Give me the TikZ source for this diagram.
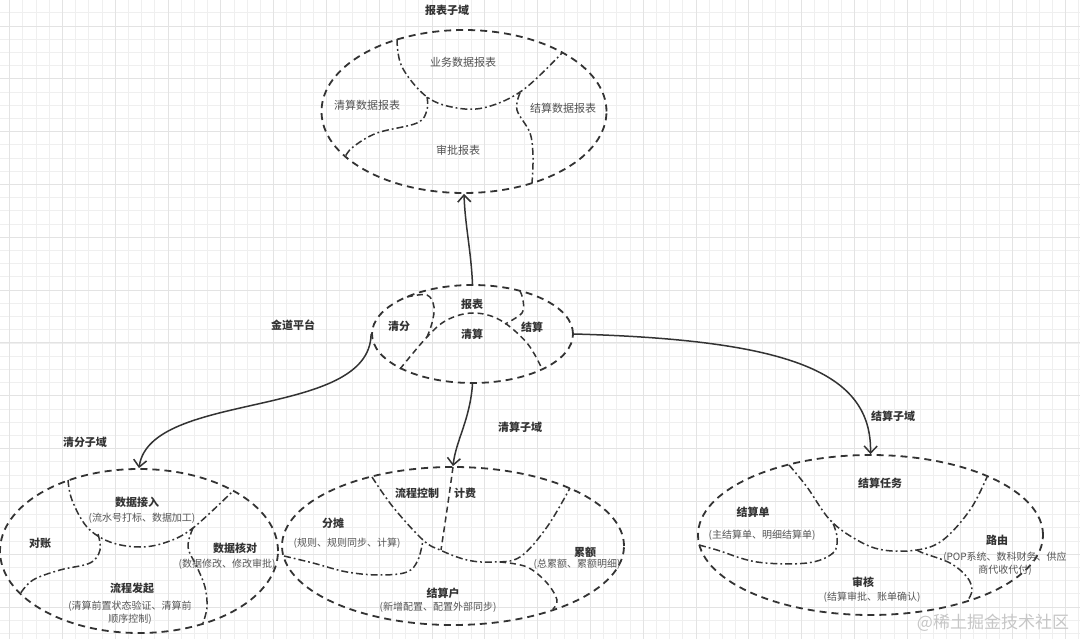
\documentclass[tikz,border=0pt]{standalone}
\usepackage{fontspec}
\setmainfont{Noto Sans CJK SC}
\usetikzlibrary{shapes.geometric,arrows.meta}
\definecolor{ink}{HTML}{333333}
\definecolor{soft}{HTML}{555555}
\definecolor{gridminor}{HTML}{EFEFEF}
\definecolor{gridmajor}{HTML}{E3E3E3}
\tikzset{
  domainell/.style={ellipse, draw=ink, line width=1.8pt, dash pattern=on 7pt off 5pt, inner sep=0pt},
  dashdot/.style={draw=ink, line width=1.5pt, dash pattern=on 7pt off 3pt on 1.8pt off 3pt},
  dashline/.style={draw=ink, line width=1.5pt, dash pattern=on 6pt off 4pt},
  conn/.style={draw=ink, line width=1.5pt, -{Straight Barb[length=7pt,width=13pt,line width=1.5pt]}},
  lbl/.style={font=\fontsize{11}{13}\selectfont\bfseries, text=ink, inner sep=0pt},
  sub/.style={font=\fontsize{10}{13}\selectfont, text=soft, inner sep=0pt, align=center},
  plainlbl/.style={font=\fontsize{11}{13}\selectfont, text=ink!85, inner sep=0pt},
}
\begin{document}
\begin{tikzpicture}[x=1pt,y=-1pt]
\useasboundingbox (0,0) rectangle (1080,639);
\fill[white] (0,0) rectangle (1080,639);
% grid
\foreach \gx in {9.6,22.8,...,1080} \draw[gridminor, line width=0.8pt] (\gx,0) -- (\gx,639);
\foreach \gy in {12.9,26.1,...,639} \draw[gridminor, line width=0.8pt] (0,\gy) -- (1080,\gy);
\foreach \gx in {9.6,62.4,...,1080} \draw[gridmajor, line width=0.8pt] (\gx,0) -- (\gx,639);
\foreach \gy in {26.1,78.9,...,639} \draw[gridmajor, line width=0.8pt] (0,\gy) -- (1080,\gy);

% domains
\node[domainell, minimum width=285pt, minimum height=163pt] (rep) at (464,111.5) {};
\node[domainell, minimum width=201pt, minimum height=98pt] (ctr) at (472.5,334) {};
\node[domainell, minimum width=278pt, minimum height=164pt] (cl) at (139,551) {};
\node[domainell, minimum width=342pt, minimum height=158pt] (cm) at (453,546) {};
\node[domainell, minimum width=345pt, minimum height=160pt] (cr) at (870.5,535) {};

% --- report domain inner borders
\draw[dashdot] plot[smooth, tension=0.6] coordinates {(397,39) (402,67) (427,97) (457,108) (487,107) (523,90) (562,53)};
\draw[dashdot] plot[smooth, tension=0.6] coordinates {(427,97) (427,110) (417,123) (377,133) (353,147) (345,157)};
\draw[dashdot] plot[smooth, tension=0.6] coordinates {(520,93) (517,110) (530,133) (533,157) (532,183)};
\node[lbl] (repT) at (447,10) {报表子域};
\node[plainlbl] (r1) at (463,62) {业务数据报表};
\node[plainlbl] (r2) at (367,105) {清算数据报表};
\node[plainlbl] (r3) at (563,108) {结算数据报表};
\node[plainlbl] (r4) at (458,150) {审批报表};

% --- platform inner borders
\draw[dashline] plot[smooth, tension=0.6] coordinates {(400,369) (427,337) (447,320) (473,313) (500,320) (527,343) (542,369)};
\draw[dashline] plot[smooth, tension=0.6] coordinates {(407,297) (427,295) (434,307) (432,323) (427,337)};
\draw[dashline] plot[smooth, tension=0.6] coordinates {(520,291) (523,300) (522,313) (505,324)};
\node[lbl] (ctrT) at (293,325) {金道平台};
\node[lbl] (p1) at (472,304) {报表};
\node[lbl] (p2) at (399,326) {清分};
\node[lbl] (p3) at (472,334) {清算};
\node[lbl] (p4) at (532,327) {结算};

% --- clearing-split domain
\draw[dashdot] plot[smooth, tension=0.6] coordinates {(68,480) (72,500) (87,527) (110,542) (140,547) (167,542) (193,528) (233,491)};
\draw[dashdot] plot[smooth, tension=0.6] coordinates {(98,534) (100,550) (90,563) (60,570) (33,580) (20,594)};
\draw[dashdot] plot[smooth, tension=0.6] coordinates {(193,528) (188,547) (197,567) (205,587) (207,607) (203,623)};
\node[lbl] (clT) at (85,442) {清分子域};
\node[lbl] (l1) at (137,502) {数据接入};
\node[sub] (l1s) at (142,518) {(流水号打标、数据加工)};
\node[lbl] (l2) at (40,543) {对账};
\node[lbl] (l3) at (235,548) {数据核对};
\node[sub] (l3s) at (227,564) {(数据修改、修改审批)};
\node[lbl] (l4) at (132,588) {流程发起};
\node[sub] (l4s) at (130,613) {(清算前置状态验证、清算前\\顺序控制)};

% --- clearing domain
\draw[dashdot] plot[smooth, tension=0.6] coordinates {(372,477) (393,507) (423,540) (440,550) (467,560) (493,562) (520,557) (547,527) (570,488)};
\draw[dashline] plot[smooth, tension=0.6] coordinates {(453,467) (448,503) (441,550)};
\draw[dashdot] plot[smooth, tension=0.6] coordinates {(284,556) (313,563) (347,572) (380,575) (407,572) (418,560) (423,540)};
\draw[dashline] plot[smooth, tension=0.6] coordinates {(500,562) (527,567) (547,583) (557,600) (553,609)};
\node[lbl] (cmT) at (520,427) {清算子域};
\node[lbl] (m1) at (417,493) {流程控制};
\node[lbl] (m2) at (465,493) {计费};
\node[lbl] (m3) at (333,523) {分摊};
\node[sub] (m3s) at (347,543) {(规则、规则同步、计算)};
\node[lbl] (m4) at (585,552) {累额};
\node[sub] (m4s) at (577,564) {(总累额、累额明细)};
\node[lbl] (m5) at (443,593) {结算户};
\node[sub] (m5s) at (438,607) {(新增配置、配置外部同步)};

% --- settlement domain
\draw[dashdot] plot[smooth, tension=0.6] coordinates {(789,465) (807,487) (830,520) (857,540) (883,550) (917,550) (943,540) (970,510) (987,477)};
\draw[dashdot] plot[smooth, tension=0.6] coordinates {(699,545) (717,550) (757,562) (807,563) (833,553) (837,537) (832,521)};
\draw[dashdot] plot[smooth, tension=0.6] coordinates {(917,550) (923,553) (950,563) (967,577) (972,590) (968,600)};
\node[lbl] (crT) at (893,416) {结算子域};
\node[lbl] (s1) at (880,483) {结算任务};
\node[lbl] (s2) at (753,512) {结算单};
\node[sub] (s2s) at (762,535) {(主结算单、明细结算单)};
\node[lbl] (s3) at (997,540) {路由};
\node[sub] (s3s) at (1005,564) {(POP系统、数科财务、供应\\商代收代付)};
\node[lbl] (s4) at (863,582) {审核};
\node[sub] (s4s) at (872,597) {(结算审批、账单确认)};

% connectors
\draw[conn] (ctr.north) .. controls (471,250) and (465,225) .. (rep.south);
\draw[conn] (ctr.west) .. controls (370,420) and (150,390) .. (cl.north);
\draw[conn] (ctr.south) .. controls (470,420) and (456,440) .. (cm.north);
\draw[conn] (ctr.east) .. controls (790,340) and (872,372) .. (cr.north);

% watermark
\node[font=\fontsize{17}{20}\selectfont, text=gray!45, inner sep=0pt] (wm) at (993,623) {@稀土掘金技术社区};
\end{tikzpicture}
\end{document}
